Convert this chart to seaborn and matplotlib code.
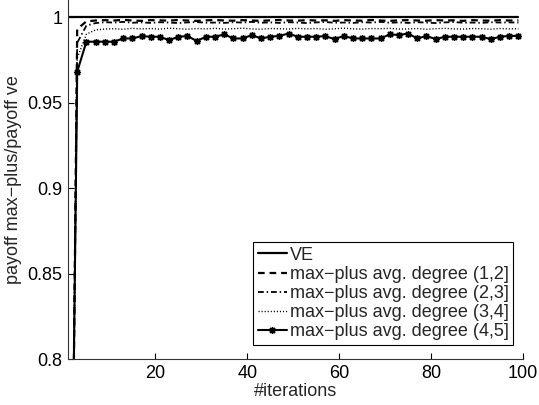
import matplotlib
matplotlib.use("Agg")
import matplotlib.pyplot as plt
import seaborn as sns
import pandas as pd

# ---- data ----
iterations = list(range(1, 100, 2))

ve = [1.0] * 50

deg_12 = [0.45, 0.993, 0.9975, 0.9980, 0.9982, 0.9980, 0.9984, 0.9980, 0.9978, 0.9982,
          0.9981, 0.9979, 0.9983, 0.9980, 0.9978, 0.9981, 0.9983, 0.9980, 0.9979, 0.9982,
          0.9980, 0.9978, 0.9981, 0.9983, 0.9980, 0.9979, 0.9982, 0.9980, 0.9981, 0.9978,
          0.9982, 0.9980, 0.9979, 0.9983, 0.9980, 0.9978, 0.9981, 0.9982, 0.9980, 0.9979,
          0.9982, 0.9980, 0.9981, 0.9978, 0.9982, 0.9980, 0.9979, 0.9982, 0.9980, 0.9981]

deg_23 = [0.47, 0.985, 0.9950, 0.9965, 0.9970, 0.9968, 0.9972, 0.9967, 0.9969, 0.9966,
          0.9970, 0.9968, 0.9965, 0.9969, 0.9971, 0.9967, 0.9968, 0.9966, 0.9970, 0.9968,
          0.9972, 0.9967, 0.9969, 0.9966, 0.9970, 0.9968, 0.9965, 0.9969, 0.9971, 0.9967,
          0.9968, 0.9966, 0.9970, 0.9968, 0.9972, 0.9967, 0.9969, 0.9966, 0.9970, 0.9968,
          0.9965, 0.9969, 0.9971, 0.9967, 0.9968, 0.9966, 0.9970, 0.9968, 0.9969, 0.9968]

deg_34 = [0.49, 0.976, 0.9900, 0.9925, 0.9930, 0.9932, 0.9929, 0.9934, 0.9931, 0.9933,
          0.9930, 0.9935, 0.9932, 0.9929, 0.9933, 0.9931, 0.9934, 0.9930, 0.9932, 0.9935,
          0.9931, 0.9929, 0.9933, 0.9932, 0.9930, 0.9934, 0.9931, 0.9933, 0.9929, 0.9932,
          0.9935, 0.9931, 0.9930, 0.9933, 0.9932, 0.9934, 0.9930, 0.9931, 0.9933, 0.9929,
          0.9932, 0.9934, 0.9931, 0.9930, 0.9933, 0.9932, 0.9929, 0.9933, 0.9931, 0.9932]

deg_45 = [0.50, 0.968, 0.9856, 0.9856, 0.9856, 0.9856, 0.9875, 0.9875, 0.9889, 0.9885,
          0.9885, 0.9865, 0.9885, 0.9889, 0.9860, 0.9885, 0.9885, 0.9899, 0.9875, 0.9875,
          0.9895, 0.9875, 0.9885, 0.9890, 0.9904, 0.9885, 0.9885, 0.9885, 0.9889, 0.9871,
          0.9890, 0.9875, 0.9875, 0.9875, 0.9875, 0.9899, 0.9895, 0.9904, 0.9875, 0.9890,
          0.9871, 0.9885, 0.9885, 0.9885, 0.9885, 0.9885, 0.9871, 0.9885, 0.9890, 0.9890]

labels = ["VE",
          "max\u2212plus avg. degree (1,2]",
          "max\u2212plus avg. degree (2,3]",
          "max\u2212plus avg. degree (3,4]",
          "max\u2212plus avg. degree (4,5]"]

x_ticks = [20, 40, 60, 80, 100]
y_ticks = [0.8, 0.85, 0.9, 0.95, 1.0]
y_tick_labels = ["0.8", "0.85", "0.9", "0.95", "1"]

# ---- style ----
sns.set_style("ticks")
plt.rcParams["font.family"] = ["Liberation Sans", "DejaVu Sans"]
plt.rcParams["font.size"] = 13

fig = plt.figure(figsize=(5.39, 4.05), dpi=100)
ax = fig.add_axes([68 / 539, 46 / 405, 455 / 539, 359 / 405])

series = [ve, deg_12, deg_23, deg_34, deg_45]
styles = [
    dict(linestyle="-", linewidth=1.6, marker="None"),
    dict(linestyle=(0, (3.0, 2.2)), linewidth=1.6, marker="None"),
    dict(linestyle=(0, (3.2, 1.6, 0.8, 1.6)), linewidth=1.3, marker="None"),
    dict(linestyle=(0, (0.8, 1.4)), linewidth=1.0, marker="None"),
    dict(linestyle="-", linewidth=1.5, marker=(8, 2, 0), markersize=5,
         markeredgewidth=1.0),
]

handles = []
for vals, lab, st in zip(series, labels, styles):
    df = pd.DataFrame({"iteration": iterations, "ratio": vals})
    n_before = len(ax.lines)
    sns.lineplot(data=df, x="iteration", y="ratio", ax=ax, color="black",
                 legend=False)
    line = ax.lines[n_before]
    line.set_label(lab)
    line.set_color("black")
    line.set_linestyle(st["linestyle"])
    line.set_linewidth(st["linewidth"])
    line.set_marker(st["marker"])
    if "markersize" in st:
        line.set_markersize(st["markersize"])
        line.set_markeredgewidth(st["markeredgewidth"])
        line.set_markeredgecolor("black")
        line.set_markerfacecolor("black")
    handles.append(line)

ax.set_xlim(1, 100)
ax.set_ylim(0.8, 1.01)
ax.set_xticks(x_ticks)
ax.set_yticks(y_ticks)
ax.set_yticklabels(y_tick_labels)
ax.tick_params(direction="in", length=4, width=0.8, labelsize=13, pad=4,
               colors="black")
for side in ["top", "right"]:
    ax.spines[side].set_visible(False)
for side in ["left", "bottom"]:
    ax.spines[side].set_color("#333333")
    ax.spines[side].set_linewidth(0.8)

ax.set_xlabel("#iterations", fontsize=13, labelpad=1)
ax.set_ylabel("payoff max\u2212plus/payoff ve", fontsize=13, labelpad=4)

leg = ax.legend(handles=handles, labels=labels, loc="lower right",
                bbox_to_anchor=(0.978, 0.039),
                borderaxespad=0, fancybox=False, framealpha=1,
                edgecolor="black", handlelength=1.6, handletextpad=0.15,
                labelspacing=0.12, borderpad=0.25, fontsize=13)
leg.get_frame().set_linewidth(0.8)

fig.savefig("out.png", dpi=100)
